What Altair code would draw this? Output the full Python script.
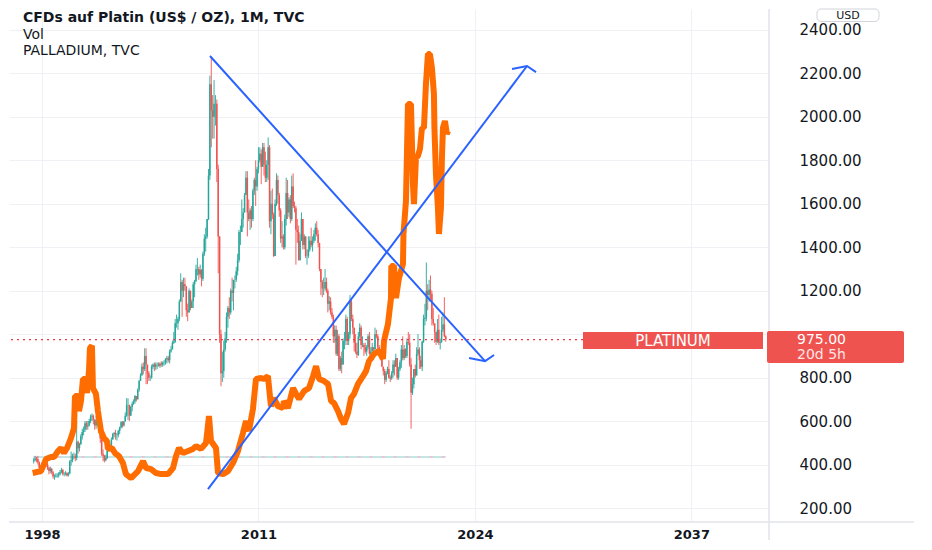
import altair as alt
import pandas as pd

# ---------------- texts ----------------
TITLE = "CFDs auf Platin (US$ / OZ), 1M, TVC"
SUB_1 = "Vol"
SUB_2 = "PALLADIUM, TVC"
CURRENCY = "USD"
SYMBOL_LABEL = "PLATINUM"
LAST_PRICE = 975.0
COUNTDOWN = "20d 5h"

YEAR_TICKS = [1998, 2011, 2024, 2037]
PRICE_TICKS = [200, 400, 600, 800, 1000, 1200, 1400, 1600, 1800, 2000, 2200, 2400]

# ---------------- platinum monthly candles (Jul 1997 .. Apr 2022) ----------------
START_YEAR, START_MONTH = 1997, 7
FIRST_OPEN = 415

C97 = [420, 428, 425, 410, 385, 370]
H97 = [430, 440, 435, 440, 415, 395]
L97 = [405, 415, 410, 400, 380, 355]
C98 = [385, 395, 410, 400, 385, 370, 380, 365, 345, 345, 350, 350]
H98 = [395, 405, 425, 430, 410, 390, 390, 385, 370, 355, 360, 360]
L98 = [360, 375, 385, 390, 375, 355, 360, 355, 335, 330, 340, 340]
C99 = [355, 365, 375, 355, 355, 360, 350, 360, 415, 420, 440, 440]
H99 = [365, 375, 385, 380, 365, 370, 365, 365, 420, 460, 450, 455]
L99 = [340, 350, 360, 350, 345, 350, 345, 345, 355, 395, 410, 425]
C00 = [430, 505, 475, 495, 530, 550, 560, 590, 575, 580, 600, 620]
H00 = [450, 600, 510, 500, 540, 565, 575, 600, 600, 600, 610, 630]
L00 = [415, 420, 450, 460, 490, 515, 535, 550, 560, 560, 575, 590]
C01 = [625, 605, 580, 605, 600, 560, 520, 450, 440, 420, 430, 480]
H01 = [635, 630, 610, 625, 640, 610, 565, 525, 470, 445, 445, 485]
L01 = [600, 585, 560, 565, 590, 545, 500, 440, 415, 410, 415, 425]
C02 = [475, 490, 515, 540, 545, 535, 535, 555, 570, 595, 580, 598]
H02 = [495, 495, 525, 545, 550, 560, 545, 560, 575, 600, 600, 600]
L02 = [465, 460, 485, 515, 525, 515, 510, 525, 540, 565, 570, 575]
C03 = [625, 675, 675, 625, 665, 680, 690, 715, 700, 745, 785, 810]
H03 = [640, 705, 705, 670, 670, 690, 700, 720, 715, 750, 790, 820]
L03 = [600, 620, 605, 600, 625, 645, 675, 680, 690, 700, 735, 785]
C04 = [850, 840, 900, 860, 820, 800, 800, 850, 860, 850, 860, 860]
H04 = [865, 870, 935, 935, 840, 830, 810, 860, 865, 870, 870, 870]
L04 = [810, 815, 830, 770, 770, 785, 785, 795, 840, 830, 835, 840]
C05 = [855, 865, 860, 870, 870, 885, 890, 880, 920, 930, 960, 965]
H05 = [870, 870, 875, 875, 880, 890, 900, 900, 930, 945, 970, 1010]
L05 = [850, 845, 850, 850, 855, 860, 865, 870, 865, 915, 930, 955]
C06 = [1050, 1050, 1070, 1150, 1240, 1200, 1230, 1220, 1110, 1100, 1200, 1120]
H06 = [1070, 1090, 1080, 1160, 1280, 1250, 1260, 1260, 1220, 1140, 1210, 1200]
L06 = [960, 1030, 1020, 1060, 1150, 1080, 1170, 1200, 1080, 1060, 1100, 1110]
C07 = [1150, 1230, 1245, 1300, 1300, 1275, 1295, 1255, 1370, 1440, 1450, 1530]
H07 = [1160, 1240, 1250, 1320, 1350, 1310, 1320, 1300, 1380, 1460, 1490, 1530]
L07 = [1120, 1120, 1170, 1240, 1270, 1250, 1260, 1220, 1245, 1360, 1380, 1440]
C08 = [1730, 2150, 2030, 2000, 2060, 2060, 1760, 1450, 1000, 820, 830, 930]
H08 = [1760, 2190, 2275, 2100, 2170, 2100, 2080, 1780, 1450, 1020, 920, 970]
L08 = [1525, 1710, 1860, 1900, 1900, 1960, 1700, 1280, 960, 760, 780, 800]
C09 = [980, 1080, 1120, 1100, 1200, 1190, 1250, 1250, 1290, 1340, 1470, 1470]
H09 = [1010, 1100, 1130, 1170, 1210, 1260, 1250, 1270, 1310, 1370, 1480, 1500]
L09 = [920, 960, 1030, 1070, 1090, 1150, 1110, 1210, 1240, 1270, 1330, 1410]
C10 = [1530, 1560, 1640, 1720, 1560, 1530, 1570, 1530, 1660, 1710, 1680, 1760]
H10 = [1620, 1580, 1650, 1750, 1750, 1620, 1580, 1590, 1670, 1720, 1800, 1770]
L10 = [1470, 1490, 1560, 1640, 1450, 1520, 1480, 1490, 1520, 1640, 1590, 1660]
C11 = [1800, 1830, 1770, 1860, 1780, 1720, 1780, 1860, 1520, 1600, 1550, 1360]
H11 = [1860, 1860, 1850, 1880, 1880, 1840, 1800, 1905, 1870, 1660, 1670, 1560]
L11 = [1740, 1790, 1690, 1770, 1730, 1700, 1700, 1710, 1490, 1460, 1530, 1355]
C12 = [1600, 1710, 1640, 1570, 1440, 1450, 1400, 1530, 1650, 1560, 1620, 1530]
H12 = [1620, 1740, 1730, 1650, 1580, 1520, 1460, 1550, 1720, 1710, 1630, 1640]
L12 = [1360, 1590, 1600, 1540, 1420, 1400, 1390, 1390, 1500, 1530, 1540, 1510]
C13 = [1680, 1590, 1580, 1480, 1470, 1340, 1430, 1530, 1410, 1450, 1360, 1360]
H13 = [1730, 1740, 1610, 1590, 1530, 1500, 1460, 1560, 1530, 1460, 1450, 1390]
L13 = [1520, 1580, 1560, 1320, 1420, 1340, 1340, 1430, 1390, 1390, 1350, 1320]
C14 = [1390, 1430, 1410, 1430, 1460, 1490, 1460, 1420, 1300, 1240, 1210, 1210]
H14 = [1450, 1450, 1490, 1450, 1480, 1510, 1520, 1480, 1420, 1300, 1250, 1260]
L14 = [1350, 1380, 1400, 1380, 1420, 1430, 1450, 1400, 1290, 1180, 1170, 1180]
C15 = [1240, 1200, 1140, 1150, 1100, 1080, 990, 1020, 910, 990, 840, 890]
H15 = [1300, 1260, 1210, 1175, 1170, 1120, 1090, 1040, 1040, 1020, 1000, 900]
L15 = [1200, 1190, 1100, 1110, 1090, 1070, 960, 960, 900, 900, 830, 830]
C16 = [860, 970, 970, 1070, 970, 1000, 1150, 1070, 1030, 960, 920, 905]
H16 = [920, 980, 1010, 1090, 1080, 1010, 1180, 1160, 1090, 1030, 1000, 960]
L16 = [820, 860, 930, 950, 950, 950, 980, 1060, 1000, 920, 910, 890]
C17 = [990, 1030, 950, 950, 940, 920, 940, 990, 910, 920, 940, 930]
H17 = [1010, 1050, 1040, 990, 960, 960, 950, 1000, 1010, 940, 960, 940]
L17 = [900, 980, 930, 940, 900, 910, 900, 930, 905, 910, 920, 880]
C18 = [1000, 990, 940, 900, 900, 850, 830, 790, 820, 840, 800, 795]
H18 = [1030, 1020, 1000, 950, 930, 920, 850, 840, 830, 850, 880, 810]
L18 = [930, 980, 930, 900, 880, 850, 810, 770, 780, 815, 795, 780]
C19 = [820, 860, 850, 890, 800, 840, 870, 930, 890, 930, 900, 965]
H19 = [830, 880, 880, 910, 890, 850, 880, 950, 990, 950, 935, 980]
L19 = [790, 800, 810, 850, 790, 790, 830, 845, 880, 880, 890, 890]
C20 = [960, 860, 730, 770, 840, 810, 910, 930, 880, 850, 965, 1070]
H20 = [1010, 1000, 890, 800, 840, 860, 940, 1000, 940, 900, 970, 1090]
L20 = [950, 850, 565, 720, 750, 800, 810, 900, 840, 840, 830, 960]
C21 = [1075, 1200, 1180, 1205, 1185, 1070, 1050, 1010, 965, 1020, 960, 965]
H21 = [1140, 1330, 1230, 1250, 1270, 1200, 1120, 1050, 1010, 1070, 1090, 980]
L21 = [1040, 1060, 1110, 1150, 1160, 1040, 1040, 960, 950, 960, 950, 930]
C22 = [1020, 1045, 990, 975]
H22 = [1080, 1100, 1170, 995]
L22 = [960, 1010, 985, 965]

CLOSES = (C97 + C98 + C99 + C00 + C01 + C02 + C03 + C04 + C05 + C06 + C07 + C08 + C09
          + C10 + C11 + C12 + C13 + C14 + C15 + C16 + C17 + C18 + C19 + C20 + C21 + C22)
HIGHS = (H97 + H98 + H99 + H00 + H01 + H02 + H03 + H04 + H05 + H06 + H07 + H08 + H09
         + H10 + H11 + H12 + H13 + H14 + H15 + H16 + H17 + H18 + H19 + H20 + H21 + H22)
LOWS = (L97 + L98 + L99 + L00 + L01 + L02 + L03 + L04 + L05 + L06 + L07 + L08 + L09
        + L10 + L11 + L12 + L13 + L14 + L15 + L16 + L17 + L18 + L19 + L20 + L21 + L22)

# ---------------- palladium overlay ----------------
PD_T = [1997.44, 1997.94, 1998.24, 1998.54, 1998.72, 1998.96, 1999.14, 1999.32, 1999.50, 1999.74,
        1999.92, 1999.98, 2000.16, 2000.22, 2000.34, 2000.46, 2000.58, 2000.70, 2000.82, 2000.88,
        2001.00, 2001.06, 2001.24, 2001.36, 2001.54, 2001.72, 2001.90, 2001.96, 2002.20, 2002.38,
        2002.62, 2002.86, 2003.04, 2003.35, 2003.77, 2004.07, 2004.25, 2004.55, 2004.85, 2005.15,
        2005.57, 2005.87, 2006.05, 2006.23, 2006.47, 2006.77, 2007.07, 2007.25, 2007.55, 2007.85,
        2008.03, 2008.15, 2008.45, 2008.57, 2008.87, 2009.17, 2009.47, 2009.77, 2010.07, 2010.25,
        2010.43, 2010.67, 2010.85, 2011.15, 2011.33, 2011.57, 2011.75, 2011.93, 2012.17, 2012.47,
        2012.53, 2012.77, 2013.08, 2013.26, 2013.44, 2013.74, 2014.04, 2014.28, 2014.46, 2014.64,
        2014.94, 2015.18, 2015.36, 2015.54, 2015.78, 2015.96, 2016.14, 2016.38, 2016.56, 2016.74,
        2016.98, 2017.28, 2017.46, 2017.64, 2017.94, 2018.24, 2018.48, 2018.54, 2018.78, 2018.96,
        2018.98, 2019.14, 2019.26, 2019.44, 2019.68, 2019.71, 2019.86, 2019.98, 2020.16, 2020.28,
        2020.34, 2020.46, 2020.58, 2020.70, 2020.82, 2020.94, 2021.06, 2021.18, 2021.30, 2021.42,
        2021.54, 2021.57, 2021.66, 2021.78, 2021.84, 2021.96, 2022.02, 2022.08, 2022.20, 2022.32,
        2022.38]
PD_V = [361, 370, 425, 435, 435, 462, 476, 453, 476, 522,
        568, 715, 715, 646, 692, 794, 794, 729, 830, 936,
        946, 752, 725, 646, 554, 522, 508, 472, 476, 453,
        439, 407, 356, 338, 370, 416, 384, 379, 361, 356,
        356, 384, 439, 476, 453, 462, 472, 485, 472, 499,
        623, 508, 476, 361, 356, 370, 407, 462, 545, 600,
        554, 656, 794, 798, 794, 807, 669, 706, 669, 660,
        692, 660, 752, 725, 702, 738, 752, 807, 853, 794,
        784, 771, 692, 683, 646, 610, 587, 637, 706, 725,
        771, 807, 830, 876, 909, 923, 886, 969, 1047, 1166,
        1314, 1314, 1166, 1258, 1323, 1461, 1613, 2059, 2059, 1691,
        1599, 1811, 1820, 1852, 1949, 1949, 2151, 2289, 2289, 2225,
        2105, 1949, 1737, 1581, 1461, 1581, 1811, 1949, 1981, 1921,
        1935]

# ---------------- drawn trend arrows ----------------
DOWN_T = [2008.09, 2024.61]
DOWN_V = [2280, 876]
DOWN_HEAD_T = [2023.65, 2024.61, 2025.15]
DOWN_HEAD_V = [890, 876, 904]
UP_T = [2007.97, 2027.13]
UP_V = [287, 2234]
UP_HEAD_T = [2026.23, 2027.13, 2027.67]
UP_HEAD_V = [2220, 2234, 2206]

# flat volume pane line
VOL_T = [1997.5, 2022.25]
VOL_V = [435, 435]

# ---------------- build tables ----------------
n = len(CLOSES)
t0 = START_YEAR + (START_MONTH - 1) / 12
times = [t0 + i / 12 for i in range(n)]
opens = [FIRST_OPEN] + CLOSES[:-1]
rows = []
for i in range(n):
    o, c = opens[i], CLOSES[i]
    rows.append(dict(t=times[i], open=o, close=c,
                     high=max(HIGHS[i], o, c), low=min(LOWS[i], o, c),
                     dir="up" if c >= o else "down"))
candles = pd.DataFrame(rows)

pd_df = pd.DataFrame({"t": PD_T, "v": PD_V, "i": list(range(len(PD_T)))})

seg_rows = []
for name, ts, vs in [("down", DOWN_T, DOWN_V), ("down_head", DOWN_HEAD_T, DOWN_HEAD_V),
                     ("up", UP_T, UP_V), ("up_head", UP_HEAD_T, UP_HEAD_V)]:
    for k, (tt, vv) in enumerate(zip(ts, vs)):
        seg_rows.append(dict(seg=name, k=k, t=tt, v=vv))
trend = pd.DataFrame(seg_rows)

vol = pd.DataFrame({"t": VOL_T, "v": VOL_V})
last = pd.DataFrame({"v": [LAST_PRICE]})

# ---------------- scales & axes ----------------
W, H = 760, 512
xs = alt.Scale(domain=[1996.018, 2041.664], nice=False, zero=False)
ys = alt.Scale(domain=[140.2, 2496.4], nice=False, zero=False)
FONT = "DejaVu Sans"
TXT = "#131722"
GRID = "#eef0f4"

x_axis = alt.Axis(values=YEAR_TICKS, format="d", labelFont=FONT, labelFontWeight="bold",
                  labelFontSize=13, labelColor=TXT, grid=True, gridColor=GRID, ticks=False,
                  domain=False, labelPadding=7, title=None, labelFlush=False, zindex=0)
# the 1000.00 label sits under the last-price badge in the reference
y_axis = alt.Axis(orient="right", values=PRICE_TICKS, labelFont=FONT,
                  labelExpr=f"abs(datum.value - {LAST_PRICE}) < 60 ? '' : format(datum.value, '.2f')",
                  labelFontSize=15, labelColor=TXT, grid=True, gridColor=GRID, ticks=False,
                  domain=False, labelPadding=30, labelAlign="left", title=None, zindex=0)

X = lambda f: alt.X(f, scale=xs, axis=x_axis)
Y = lambda f: alt.Y(f, scale=ys, axis=y_axis)
col = alt.Color("dir:N", scale=alt.Scale(domain=["up", "down"], range=["#26a69a", "#ef5350"]),
                legend=None)

vol_teal = alt.Chart(vol).mark_line(color="#b2dfdb", strokeWidth=1.5).encode(x=X("t:Q"), y=Y("v:Q"))
vol_pink = alt.Chart(vol).mark_line(color="#f8bbd0", strokeWidth=1.5, strokeDash=[3, 9]).encode(
    x=X("t:Q"), y=Y("v:Q"))

wicks = alt.Chart(candles).mark_rule(strokeWidth=0.9).encode(
    x=X("t:Q"), y=Y("low:Q"), y2="high:Q", color=col)
bodies = alt.Chart(candles).mark_rule(strokeWidth=1.5).encode(
    x=X("t:Q"), y=Y("open:Q"), y2="close:Q", color=col)

pall = alt.Chart(pd_df).mark_line(color="#ff6d00", strokeWidth=6, strokeJoin="bevel").encode(
    x=X("t:Q"), y=Y("v:Q"), order="i:Q")

trend_lines = alt.Chart(trend).mark_line(color="#2962ff", strokeWidth=2).encode(
    x=X("t:Q"), y=Y("v:Q"), detail="seg:N", order="k:Q")

last_line = alt.Chart(last).mark_rule(color="#f23645", strokeWidth=1.2, strokeDash=[2, 4]).encode(
    y=Y("v:Q"))

one = pd.DataFrame({"a": [0]})

def box(x1, x2, y1, y2, **kw):
    return alt.Chart(one).mark_rect(**kw).encode(
        x=alt.value(x1), x2=alt.value(x2), y=alt.value(y1), y2=alt.value(y2))

def label(text, x, y, **kw):
    return alt.Chart(pd.DataFrame({"s": [text]})).mark_text(font=FONT, **kw).encode(
        x=alt.value(x), y=alt.value(y), text="s:N")

sep_v = alt.Chart(one).mark_rule(color="#e0e3eb", strokeWidth=1.5).encode(
    x=alt.value(760), y=alt.value(0), y2=alt.value(531))
sep_h = alt.Chart(one).mark_rule(color="#e0e3eb", strokeWidth=1.5).encode(
    x=alt.value(0), x2=alt.value(905), y=alt.value(513))

sym_box = box(574, 754, 323, 340, color="#ef5350")
sym_txt = label(SYMBOL_LABEL, 664, 332, align="center", baseline="middle", fontSize=15, color="white")
price_box = box(758, 895, 322, 354, color="#ef5350", cornerRadius=2)
price_txt = label(f"{LAST_PRICE:.2f}", 788, 331, align="left", baseline="middle", fontSize=14, color="white")
cd_txt = label(COUNTDOWN, 788, 346, align="left", baseline="middle", fontSize=14, color="#fde5e5")

usd_box = box(808, 870, 0, 12.5, fill="white", stroke="#d1d4dc", strokeWidth=1, cornerRadius=4)
usd_txt = label(CURRENCY, 839, 6.5, align="center", baseline="middle", fontSize=11, color=TXT)

t1 = label(TITLE, 14, 9, align="left", baseline="middle", fontSize=14, fontWeight="bold", color=TXT)
t2 = label(SUB_1, 14, 26, align="left", baseline="middle", fontSize=14, color=TXT)
t3 = label(SUB_2, 14, 42, align="left", baseline="middle", fontSize=14, color=TXT)

chart = alt.layer(
    vol_teal, vol_pink, wicks, bodies, pall, trend_lines, last_line,
    sep_v, sep_h, sym_box, sym_txt, price_box, price_txt, cd_txt, usd_box, usd_txt, t1, t2, t3
).properties(width=W, height=H, padding=0, background="white").configure_view(stroke=None)

chart.save("out.html", embed_options={"renderer": "svg", "actions": False})
